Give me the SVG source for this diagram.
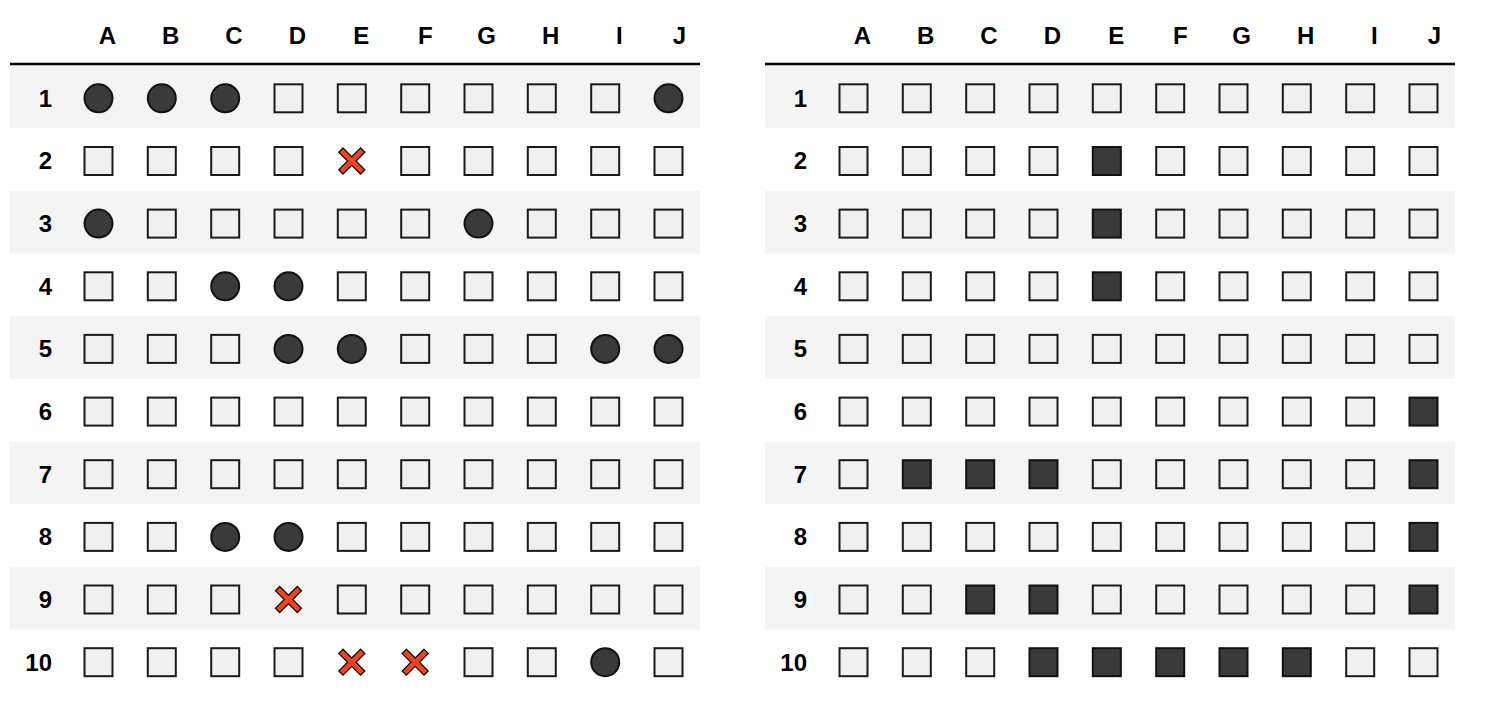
<svg xmlns="http://www.w3.org/2000/svg" xmlns:xlink="http://www.w3.org/1999/xlink" width="1487" height="719" viewBox="0 0 1487 719">
<style>
text{font-family:"Liberation Sans",Arial,sans-serif;font-weight:bold;font-size:24px;fill:#000}
.hd{text-anchor:end}
.rn{text-anchor:end}
.stripe{fill:#f4f4f4}
.rule{stroke:#000;stroke-width:2.5}
.s{fill:#f0f0f0;stroke:#1a1a1a;stroke-width:2}
.d{fill:#3a3a3a;stroke:#111;stroke-width:2}
.c{fill:#3a3a3a;stroke:#111;stroke-width:2}
.x{fill:#ee4422;stroke:#111;stroke-width:1.3;stroke-linejoin:miter}
</style>
<defs>
<rect id="sq" x="-14" y="-14" width="28" height="28"/>
<circle id="ci" cx="0" cy="0" r="14"/>
<polygon id="cr" points="-13,-8.8 -8.8,-13 0,-4.2 8.8,-13 13,-8.8 4.2,0 13,8.8 8.8,13 0,4.2 -8.8,13 -13,8.8 -4.2,0"/>
</defs>
<rect width="1487" height="719" fill="#fff"/>

<g id="left-table">
  <g id="left-stripes">
    <rect class="stripe" x="10" y="64" width="690" height="63.7"/>
    <rect class="stripe" x="10" y="191" width="690" height="62.6"/>
    <rect class="stripe" x="10" y="316.3" width="690" height="62.6"/>
    <rect class="stripe" x="10" y="441.6" width="690" height="62.6"/>
    <rect class="stripe" x="10" y="566.9" width="690" height="62.6"/>
  </g>
  <line class="rule" x1="10" y1="64" x2="700" y2="64"/>
  <g id="left-header">
    <text class="hd" x="116" y="44">A</text>
    <text class="hd" x="179.3" y="44">B</text>
    <text class="hd" x="242.7" y="44">C</text>
    <text class="hd" x="306" y="44">D</text>
    <text class="hd" x="369.3" y="44">E</text>
    <text class="hd" x="432.7" y="44">F</text>
    <text class="hd" x="496" y="44">G</text>
    <text class="hd" x="559.3" y="44">H</text>
    <text class="hd" x="622.7" y="44">I</text>
    <text class="hd" x="686" y="44">J</text>
  </g>
  <g id="left-r1" transform="translate(0,98.3)">
    <text class="rn" x="52" y="8.4">1</text>
    <use href="#ci" class="c" x="98.5"/><use href="#ci" class="c" x="161.8"/><use href="#ci" class="c" x="225.2"/><use href="#sq" class="s" x="288.5"/><use href="#sq" class="s" x="351.8"/><use href="#sq" class="s" x="415.2"/><use href="#sq" class="s" x="478.5"/><use href="#sq" class="s" x="541.8"/><use href="#sq" class="s" x="605.2"/><use href="#ci" class="c" x="668.5"/>
  </g>
  <g id="left-r2" transform="translate(0,161)">
    <text class="rn" x="52" y="8.4">2</text>
    <use href="#sq" class="s" x="98.5"/><use href="#sq" class="s" x="161.8"/><use href="#sq" class="s" x="225.2"/><use href="#sq" class="s" x="288.5"/><use href="#cr" class="x" x="351.8"/><use href="#sq" class="s" x="415.2"/><use href="#sq" class="s" x="478.5"/><use href="#sq" class="s" x="541.8"/><use href="#sq" class="s" x="605.2"/><use href="#sq" class="s" x="668.5"/>
  </g>
  <g id="left-r3" transform="translate(0,223.6)">
    <text class="rn" x="52" y="8.4">3</text>
    <use href="#ci" class="c" x="98.5"/><use href="#sq" class="s" x="161.8"/><use href="#sq" class="s" x="225.2"/><use href="#sq" class="s" x="288.5"/><use href="#sq" class="s" x="351.8"/><use href="#sq" class="s" x="415.2"/><use href="#ci" class="c" x="478.5"/><use href="#sq" class="s" x="541.8"/><use href="#sq" class="s" x="605.2"/><use href="#sq" class="s" x="668.5"/>
  </g>
  <g id="left-r4" transform="translate(0,286.3)">
    <text class="rn" x="52" y="8.4">4</text>
    <use href="#sq" class="s" x="98.5"/><use href="#sq" class="s" x="161.8"/><use href="#ci" class="c" x="225.2"/><use href="#ci" class="c" x="288.5"/><use href="#sq" class="s" x="351.8"/><use href="#sq" class="s" x="415.2"/><use href="#sq" class="s" x="478.5"/><use href="#sq" class="s" x="541.8"/><use href="#sq" class="s" x="605.2"/><use href="#sq" class="s" x="668.5"/>
  </g>
  <g id="left-r5" transform="translate(0,348.9)">
    <text class="rn" x="52" y="8.4">5</text>
    <use href="#sq" class="s" x="98.5"/><use href="#sq" class="s" x="161.8"/><use href="#sq" class="s" x="225.2"/><use href="#ci" class="c" x="288.5"/><use href="#ci" class="c" x="351.8"/><use href="#sq" class="s" x="415.2"/><use href="#sq" class="s" x="478.5"/><use href="#sq" class="s" x="541.8"/><use href="#ci" class="c" x="605.2"/><use href="#ci" class="c" x="668.5"/>
  </g>
  <g id="left-r6" transform="translate(0,411.6)">
    <text class="rn" x="52" y="8.4">6</text>
    <use href="#sq" class="s" x="98.5"/><use href="#sq" class="s" x="161.8"/><use href="#sq" class="s" x="225.2"/><use href="#sq" class="s" x="288.5"/><use href="#sq" class="s" x="351.8"/><use href="#sq" class="s" x="415.2"/><use href="#sq" class="s" x="478.5"/><use href="#sq" class="s" x="541.8"/><use href="#sq" class="s" x="605.2"/><use href="#sq" class="s" x="668.5"/>
  </g>
  <g id="left-r7" transform="translate(0,474.2)">
    <text class="rn" x="52" y="8.4">7</text>
    <use href="#sq" class="s" x="98.5"/><use href="#sq" class="s" x="161.8"/><use href="#sq" class="s" x="225.2"/><use href="#sq" class="s" x="288.5"/><use href="#sq" class="s" x="351.8"/><use href="#sq" class="s" x="415.2"/><use href="#sq" class="s" x="478.5"/><use href="#sq" class="s" x="541.8"/><use href="#sq" class="s" x="605.2"/><use href="#sq" class="s" x="668.5"/>
  </g>
  <g id="left-r8" transform="translate(0,536.9)">
    <text class="rn" x="52" y="8.4">8</text>
    <use href="#sq" class="s" x="98.5"/><use href="#sq" class="s" x="161.8"/><use href="#ci" class="c" x="225.2"/><use href="#ci" class="c" x="288.5"/><use href="#sq" class="s" x="351.8"/><use href="#sq" class="s" x="415.2"/><use href="#sq" class="s" x="478.5"/><use href="#sq" class="s" x="541.8"/><use href="#sq" class="s" x="605.2"/><use href="#sq" class="s" x="668.5"/>
  </g>
  <g id="left-r9" transform="translate(0,599.5)">
    <text class="rn" x="52" y="8.4">9</text>
    <use href="#sq" class="s" x="98.5"/><use href="#sq" class="s" x="161.8"/><use href="#sq" class="s" x="225.2"/><use href="#cr" class="x" x="288.5"/><use href="#sq" class="s" x="351.8"/><use href="#sq" class="s" x="415.2"/><use href="#sq" class="s" x="478.5"/><use href="#sq" class="s" x="541.8"/><use href="#sq" class="s" x="605.2"/><use href="#sq" class="s" x="668.5"/>
  </g>
  <g id="left-r10" transform="translate(0,662.2)">
    <text class="rn" x="52" y="8.4">10</text>
    <use href="#sq" class="s" x="98.5"/><use href="#sq" class="s" x="161.8"/><use href="#sq" class="s" x="225.2"/><use href="#sq" class="s" x="288.5"/><use href="#cr" class="x" x="351.8"/><use href="#cr" class="x" x="415.2"/><use href="#sq" class="s" x="478.5"/><use href="#sq" class="s" x="541.8"/><use href="#ci" class="c" x="605.2"/><use href="#sq" class="s" x="668.5"/>
  </g>
</g>

<g id="right-table" transform="translate(755,0)">
  <g id="right-stripes">
    <rect class="stripe" x="10" y="64" width="690" height="63.7"/>
    <rect class="stripe" x="10" y="191" width="690" height="62.6"/>
    <rect class="stripe" x="10" y="316.3" width="690" height="62.6"/>
    <rect class="stripe" x="10" y="441.6" width="690" height="62.6"/>
    <rect class="stripe" x="10" y="566.9" width="690" height="62.6"/>
  </g>
  <line class="rule" x1="10" y1="64" x2="700" y2="64"/>
  <g id="right-header">
    <text class="hd" x="116" y="44">A</text>
    <text class="hd" x="179.3" y="44">B</text>
    <text class="hd" x="242.7" y="44">C</text>
    <text class="hd" x="306" y="44">D</text>
    <text class="hd" x="369.3" y="44">E</text>
    <text class="hd" x="432.7" y="44">F</text>
    <text class="hd" x="496" y="44">G</text>
    <text class="hd" x="559.3" y="44">H</text>
    <text class="hd" x="622.7" y="44">I</text>
    <text class="hd" x="686" y="44">J</text>
  </g>
  <g id="right-r1" transform="translate(0,98.3)">
    <text class="rn" x="52" y="8.4">1</text>
    <use href="#sq" class="s" x="98.5"/><use href="#sq" class="s" x="161.8"/><use href="#sq" class="s" x="225.2"/><use href="#sq" class="s" x="288.5"/><use href="#sq" class="s" x="351.8"/><use href="#sq" class="s" x="415.2"/><use href="#sq" class="s" x="478.5"/><use href="#sq" class="s" x="541.8"/><use href="#sq" class="s" x="605.2"/><use href="#sq" class="s" x="668.5"/>
  </g>
  <g id="right-r2" transform="translate(0,161)">
    <text class="rn" x="52" y="8.4">2</text>
    <use href="#sq" class="s" x="98.5"/><use href="#sq" class="s" x="161.8"/><use href="#sq" class="s" x="225.2"/><use href="#sq" class="s" x="288.5"/><use href="#sq" class="d" x="351.8"/><use href="#sq" class="s" x="415.2"/><use href="#sq" class="s" x="478.5"/><use href="#sq" class="s" x="541.8"/><use href="#sq" class="s" x="605.2"/><use href="#sq" class="s" x="668.5"/>
  </g>
  <g id="right-r3" transform="translate(0,223.6)">
    <text class="rn" x="52" y="8.4">3</text>
    <use href="#sq" class="s" x="98.5"/><use href="#sq" class="s" x="161.8"/><use href="#sq" class="s" x="225.2"/><use href="#sq" class="s" x="288.5"/><use href="#sq" class="d" x="351.8"/><use href="#sq" class="s" x="415.2"/><use href="#sq" class="s" x="478.5"/><use href="#sq" class="s" x="541.8"/><use href="#sq" class="s" x="605.2"/><use href="#sq" class="s" x="668.5"/>
  </g>
  <g id="right-r4" transform="translate(0,286.3)">
    <text class="rn" x="52" y="8.4">4</text>
    <use href="#sq" class="s" x="98.5"/><use href="#sq" class="s" x="161.8"/><use href="#sq" class="s" x="225.2"/><use href="#sq" class="s" x="288.5"/><use href="#sq" class="d" x="351.8"/><use href="#sq" class="s" x="415.2"/><use href="#sq" class="s" x="478.5"/><use href="#sq" class="s" x="541.8"/><use href="#sq" class="s" x="605.2"/><use href="#sq" class="s" x="668.5"/>
  </g>
  <g id="right-r5" transform="translate(0,348.9)">
    <text class="rn" x="52" y="8.4">5</text>
    <use href="#sq" class="s" x="98.5"/><use href="#sq" class="s" x="161.8"/><use href="#sq" class="s" x="225.2"/><use href="#sq" class="s" x="288.5"/><use href="#sq" class="s" x="351.8"/><use href="#sq" class="s" x="415.2"/><use href="#sq" class="s" x="478.5"/><use href="#sq" class="s" x="541.8"/><use href="#sq" class="s" x="605.2"/><use href="#sq" class="s" x="668.5"/>
  </g>
  <g id="right-r6" transform="translate(0,411.6)">
    <text class="rn" x="52" y="8.4">6</text>
    <use href="#sq" class="s" x="98.5"/><use href="#sq" class="s" x="161.8"/><use href="#sq" class="s" x="225.2"/><use href="#sq" class="s" x="288.5"/><use href="#sq" class="s" x="351.8"/><use href="#sq" class="s" x="415.2"/><use href="#sq" class="s" x="478.5"/><use href="#sq" class="s" x="541.8"/><use href="#sq" class="s" x="605.2"/><use href="#sq" class="d" x="668.5"/>
  </g>
  <g id="right-r7" transform="translate(0,474.2)">
    <text class="rn" x="52" y="8.4">7</text>
    <use href="#sq" class="s" x="98.5"/><use href="#sq" class="d" x="161.8"/><use href="#sq" class="d" x="225.2"/><use href="#sq" class="d" x="288.5"/><use href="#sq" class="s" x="351.8"/><use href="#sq" class="s" x="415.2"/><use href="#sq" class="s" x="478.5"/><use href="#sq" class="s" x="541.8"/><use href="#sq" class="s" x="605.2"/><use href="#sq" class="d" x="668.5"/>
  </g>
  <g id="right-r8" transform="translate(0,536.9)">
    <text class="rn" x="52" y="8.4">8</text>
    <use href="#sq" class="s" x="98.5"/><use href="#sq" class="s" x="161.8"/><use href="#sq" class="s" x="225.2"/><use href="#sq" class="s" x="288.5"/><use href="#sq" class="s" x="351.8"/><use href="#sq" class="s" x="415.2"/><use href="#sq" class="s" x="478.5"/><use href="#sq" class="s" x="541.8"/><use href="#sq" class="s" x="605.2"/><use href="#sq" class="d" x="668.5"/>
  </g>
  <g id="right-r9" transform="translate(0,599.5)">
    <text class="rn" x="52" y="8.4">9</text>
    <use href="#sq" class="s" x="98.5"/><use href="#sq" class="s" x="161.8"/><use href="#sq" class="d" x="225.2"/><use href="#sq" class="d" x="288.5"/><use href="#sq" class="s" x="351.8"/><use href="#sq" class="s" x="415.2"/><use href="#sq" class="s" x="478.5"/><use href="#sq" class="s" x="541.8"/><use href="#sq" class="s" x="605.2"/><use href="#sq" class="d" x="668.5"/>
  </g>
  <g id="right-r10" transform="translate(0,662.2)">
    <text class="rn" x="52" y="8.4">10</text>
    <use href="#sq" class="s" x="98.5"/><use href="#sq" class="s" x="161.8"/><use href="#sq" class="s" x="225.2"/><use href="#sq" class="d" x="288.5"/><use href="#sq" class="d" x="351.8"/><use href="#sq" class="d" x="415.2"/><use href="#sq" class="d" x="478.5"/><use href="#sq" class="d" x="541.8"/><use href="#sq" class="s" x="605.2"/><use href="#sq" class="s" x="668.5"/>
  </g>
</g>
</svg>
